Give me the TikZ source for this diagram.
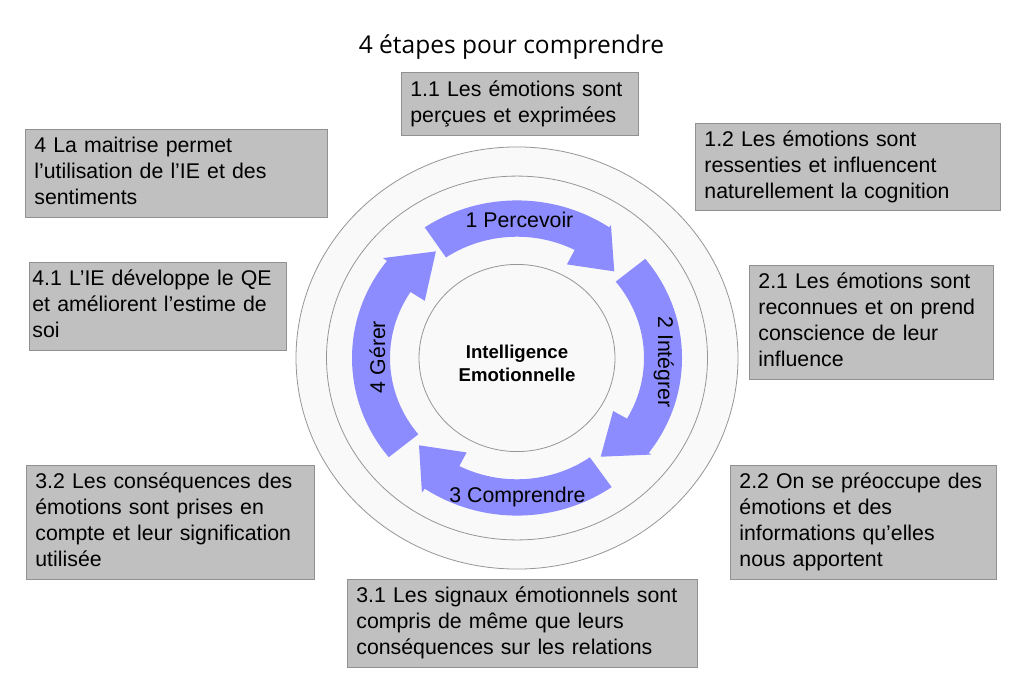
\documentclass[tikz,border=0pt]{standalone}
\usepackage{fontspec}
\setmainfont{Liberation Sans}
\newfontfamily\titrefont{Open Sans}
\definecolor{boitefond}{RGB}{192,192,192}
\definecolor{boitebord}{RGB}{145,145,145}
\definecolor{anneaufond}{RGB}{249,249,249}
\definecolor{anneaubord}{RGB}{150,150,150}
\definecolor{flechebleu}{RGB}{140,140,255}

\begin{document}
\begin{tikzpicture}[x=1pt, y=-1pt,
		boite/.style={draw=boitebord, fill=boitefond, line width=0.8pt, rectangle, anchor=north west, align=left, inner xsep=9pt, inner ysep=0pt, font=\fontsize{21.3}{26}\selectfont, execute at begin node=\strut, execute at end node=\strut},
		etape/.style={font=\fontsize{21.3}{25}\selectfont, anchor=base},
		anneau/.style={draw=anneaubord, fill=anneaufond, line width=0.8pt},
		fleche/.style={fill=flechebleu}]
		\useasboundingbox [fill=white] (0,0) rectangle (1024,690);

		% titre
		\node [font=\titrefont\fontsize{24.5}{28}\selectfont, anchor=base] (titre) at (511.5,54) {4 étapes pour comprendre};

		% cercles et flèches
		\begin{scope}[shift={(517,358)}, yscale=-0.955]
			\filldraw [anneau] (0,0) circle [radius=221];
			\filldraw [anneau] (0,0) circle [radius=190.5];
			\filldraw [anneau] (0,0) circle [radius=98];

			\fill [fleche] (124:165) arc [start angle=124, end angle=56, radius=165] -- (56:168) -- (43:133) -- (63:110) -- (63:127) arc [start angle=63, end angle=124, radius=127] -- cycle;
			\fill [fleche] (39:165) arc [start angle=39, end angle=-37, radius=165] -- (-37:168) -- (-51:133) -- (-30:111) -- (-30:127) arc [start angle=-30, end angle=39, radius=127] -- cycle;
			\fill [fleche] (-55:165) arc [start angle=-55, end angle=-124, radius=165] -- (-124:170) -- (-137:134) -- (-117:111) -- (-117:127) arc [start angle=-117, end angle=-55, radius=127] -- cycle;
			\fill [fleche] (-141:165) arc [start angle=-141, end angle=-218, radius=165] -- (-218:170) -- (-234:138) -- (-213:110) -- (-213:127) arc [start angle=-213, end angle=-141, radius=127] -- cycle;
		\end{scope}

		% étapes
		\node [etape] (percevoir) at (519.5,227) {1 Percevoir};
		\node [etape, rotate=-90] (integrer) at (658,362) {2 Intégrer};
		\node [etape] (comprendre) at (517.5,502) {3 Comprendre};
		\node [etape, rotate=90] (gerer) at (385,357) {4 Gérer};
		\node [font=\bfseries\fontsize{18.6}{22.5}\selectfont, align=center] (centre) at (517,363.5) {Intelligence\\Emotionnelle};

		% boîtes
		\node [boite, minimum width=237, minimum height=63, text width=219] (b11) at (401,72) {1.1 Les émotions sont\\perçues et exprimées};
		\node [boite, minimum width=305, minimum height=87, text width=287] (b12) at (695,123) {1.2 Les émotions sont\\ressenties et influencent\\naturellement la cognition};
		\node [boite, minimum width=244, minimum height=114, text width=226] (b21) at (749,265) {2.1 Les émotions sont\\reconnues et on prend\\conscience de leur\\influence};
		\node [boite, minimum width=266, minimum height=114, text width=248] (b22) at (730,465) {2.2 On se préoccupe des\\émotions et des\\informations qu’elles\\nous apportent};
		\node [boite, minimum width=350, minimum height=88, text width=332] (b31) at (347,579) {3.1 Les signaux émotionnels sont\\compris de même que leurs\\conséquences sur les relations};
		\node [boite, minimum width=288, minimum height=114, text width=270] (b32) at (26,465) {3.2 Les conséquences des\\émotions sont prises en\\compte et leur signification\\utilisée};
		\node [boite, minimum width=302, minimum height=88, text width=284] (b4) at (25,129) {4 La maitrise permet\\l’utilisation de l’IE et des\\sentiments};
		\node [boite, inner xsep=3pt, minimum width=257, minimum height=88, text width=251] (b41) at (29,262) {4.1 L’IE développe le QE\\et améliorent l’estime de\\soi};
	\end{tikzpicture}
\end{document}
